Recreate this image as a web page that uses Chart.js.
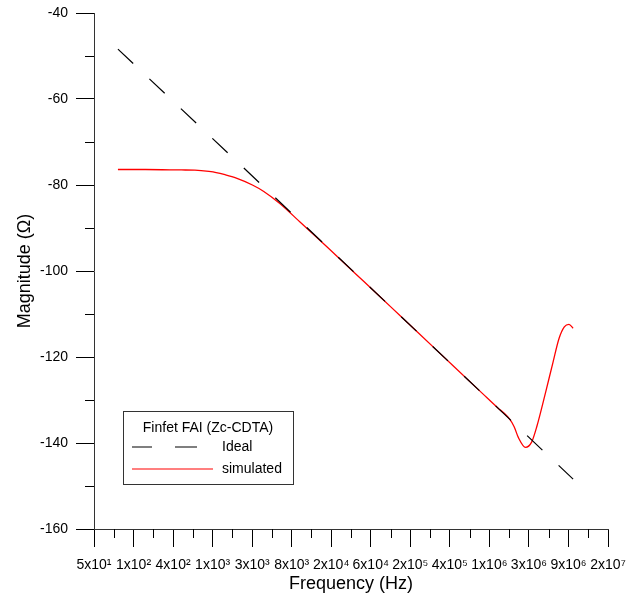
<!DOCTYPE html>
<html>
<head>
<meta charset="utf-8">
<script src="https://cdn.jsdelivr.net/npm/chart.js@4"></script>
<style>
  html, body { margin: 0; padding: 0; background: #fff; }
  #wrap { width: 641px; height: 596px; }
</style>
</head>
<body>
<div id="wrap"><canvas id="chart" width="641" height="596"></canvas></div>
<script>
// x axis is ln(frequency): ticks at e^4 ... e^17
const tickLabels = ["5x10\u00B9", "1x10\u00B2", "4x10\u00B2", "1x10\u00B3", "3x10\u00B3", "8x10\u00B3", "2x10\u2074",
    "6x10\u2074", "2x10\u2075", "4x10\u2075", "1x10\u2076", "3x10\u2076", "9x10\u2076", "2x10\u2077"];

const idealFreq = [100, 1e7];
const idealMag = [-48.4, -148.4];

const simFreq = [100, 200, 500, 700, 1000, 1200, 1500, 2000, 3000, 4000, 6000, 1e4, 2e4, 5e4, 1e5, 2e5, 5e5,
    1e6, 1.5e6, 1.75e6, 2e6, 2.25e6, 2.5e6, 3e6, 3.5e6, 4e6, 5e6, 6e6, 7e6, 8e6, 9e6, 1e7];
const simMag = [-76.4, -76.4, -76.5, -76.55, -76.85, -77.1, -77.6, -78.4, -80.0, -81.5, -84.3, -88.6, -94.5, -102.4, -108.4, -114.4, -122.4,
    -128.4, -131.9, -133.1, -134.4, -136.2, -138.7, -141.0, -139.8, -136.1, -128.1, -121.3, -115.7, -113.0, -112.4, -113.3];

const FONT = "'Liberation Sans', Arial, sans-serif";

function toPoints(freq, mag) {
    return freq.map((f, i) => ({ x: Math.log(f), y: mag[i] }));
}

const extras = {
    id: "extras",
    afterDraw(chart) {
        const ctx = chart.ctx;
        const xs = chart.scales.x, ys = chart.scales.y;
        const area = chart.chartArea;
        ctx.save();
        ctx.strokeStyle = "#000";
        ctx.lineWidth = 1;
        // minor ticks
        ctx.beginPath();
        for (let v = 4.5; v < 17; v += 1) {
            const px = Math.round(xs.getPixelForValue(v)) + 0.5;
            ctx.moveTo(px, area.bottom);
            ctx.lineTo(px, area.bottom + 9);
        }
        for (let v = -150; v < -40; v += 20) {
            const py = Math.round(ys.getPixelForValue(v)) + 0.5;
            ctx.moveTo(area.left, py);
            ctx.lineTo(area.left - 9, py);
        }
        ctx.stroke();

        // legend box
        ctx.strokeStyle = "#333";
        ctx.strokeRect(123.5, 411.5, 170, 73);
        ctx.fillStyle = "#000";
        ctx.font = "14px " + FONT;
        ctx.textBaseline = "middle";
        ctx.textAlign = "center";
        ctx.fillText("Finfet FAI (Zc-CDTA)", 208, 428);
        ctx.textAlign = "left";
        ctx.fillText("Ideal", 222, 447);
        ctx.fillText("simulated", 222, 469);
        ctx.lineWidth = 1.2;
        ctx.strokeStyle = "#000";
        ctx.beginPath();
        ctx.moveTo(132, 447); ctx.lineTo(152, 447);
        ctx.moveTo(175, 447); ctx.lineTo(197, 447);
        ctx.stroke();
        ctx.strokeStyle = "#ff0000";
        ctx.beginPath();
        ctx.moveTo(132, 469); ctx.lineTo(213, 469);
        ctx.stroke();
        ctx.restore();
    }
};

new Chart(document.getElementById("chart"), {
    type: "line",
    data: {
        datasets: [{
            label: "Ideal",
            data: toPoints(idealFreq, idealMag),
            borderColor: "#000",
            borderWidth: 1.2,
            borderDash: [21, 22.3],
            pointRadius: 0,
            fill: false
        }, {
            label: "simulated",
            data: toPoints(simFreq, simMag),
            borderColor: "#ff0000",
            borderWidth: 1.3,
            pointRadius: 0,
            cubicInterpolationMode: "monotone",
            fill: false
        }]
    },
    options: {
        responsive: false,
        animation: false,
        layout: { padding: { top: 13, right: 33, left: 0, bottom: 0 } },
        plugins: { legend: { display: false }, tooltip: { enabled: false } },
        scales: {
            x: {
                type: "linear",
                min: 4,
                max: 17,
                afterFit: s => { s.height = 67; s.paddingLeft = 0; s.paddingRight = 0; },
                border: { display: true, color: "#333", width: 1 },
                grid: { drawOnChartArea: false, drawTicks: true, tickLength: 18, tickColor: "#000" },
                ticks: {
                    stepSize: 1,
                    autoSkip: false,
                    maxRotation: 0,
                    padding: 10,
                    color: "#000",
                    font: { family: FONT, size: 14 },
                    callback: v => tickLabels[Math.round(v) - 4]
                },
                title: {
                    display: true,
                    text: "Frequency (Hz)",
                    color: "#000",
                    font: { family: FONT, size: 18 },
                    padding: { top: 0, bottom: 1 }
                }
            },
            y: {
                min: -160,
                max: -40,
                afterFit: s => { s.width = 94; s.paddingTop = 0; s.paddingBottom = 0; },
                border: { display: true, color: "#333", width: 1 },
                grid: { drawOnChartArea: false, drawTicks: true, tickLength: 18, tickColor: "#000" },
                ticks: {
                    stepSize: 20,
                    padding: 8,
                    color: "#000",
                    font: { family: FONT, size: 14 }
                },
                title: {
                    display: true,
                    text: "Magnitude (\u03A9)",
                    color: "#000",
                    font: { family: FONT, size: 18 },
                    padding: { top: 14, bottom: 0 }
                }
            }
        }
    },
    plugins: [extras]
});
</script>
</body>
</html>
